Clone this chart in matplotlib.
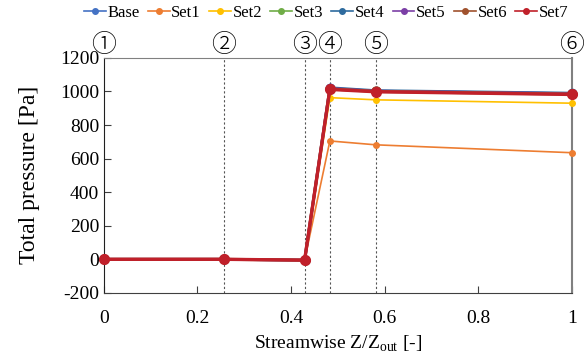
import matplotlib
matplotlib.use('Agg')
import matplotlib.pyplot as plt

plt.rcParams['font.family'] = ['Liberation Serif', 'DejaVu Sans']
plt.rcParams['mathtext.fontset'] = 'custom'
plt.rcParams['mathtext.rm'] = 'Liberation Serif'
plt.rcParams['axes.unicode_minus'] = False

# streamwise stations
z = [0, 0.256, 0.429, 0.483, 0.581, 1.0]
station_labels = ['①', '②', '③', '④', '⑤', '⑥']

names = ['Base', 'Set1', 'Set2', 'Set3', 'Set4', 'Set5', 'Set6', 'Set7']
base = [0, 0, -5, 1020, 1005, 990]
set1 = [0, 0, -5, 705, 682, 635]
set2 = [0, 0, -5, 963, 950, 930]
set3 = [0, 0, -5, 1015, 1000, 985]
set4 = [0, 0, -5, 1022, 1005, 990]
set5 = [0, 0, -5, 1018, 1002, 987]
set6 = [0, 0, -5, 1015, 1000, 984]
set7 = [0, 0, -5, 1012, 998, 982]
series = [base, set1, set2, set3, set4, set5, set6, set7]

colors = ['#4472C4', '#ED7D31', '#FFC000', '#70AD47',
          '#2E6B9E', '#7B3FA6', '#A0522D', '#C0202A']
lw = [1.2, 1.2, 1.2, 1.5, 2.0, 2.0, 2.2, 2.4]
ms = [4, 4, 4, 5, 6, 6, 6.5, 7]

fig = plt.figure(figsize=(5.87, 3.55), dpi=100)
ax = fig.add_axes([0.177, 0.175, 0.797, 0.662])

# station lines
for x in z[1:5]:
    ax.axvline(x, color='#555555', lw=0.8, ls=(0, (2, 2)), zorder=1)

for s, c, w, m, n in zip(series, colors, lw, ms, names):
    ax.plot(z, s, color=c, lw=w, marker='o', ms=m, label=n, zorder=3, clip_on=False)

for x, t in zip(z, station_labels):
    ax.text(x, 1.055, t, transform=ax.get_xaxis_transform(), ha='center', va='center',
            fontsize=18, family=['Noto Sans CJK JP', 'DejaVu Sans'], fontweight='light')

ax.set_xlim(0, 1)
ax.set_ylim(-200, 1200)
ax.set_xticks([0, 0.2, 0.4, 0.6, 0.8, 1.0])
ax.set_xticklabels(['0', '0.2', '0.4', '0.6', '0.8', '1'])
ax.set_yticks(range(-200, 1201, 200))
ax.tick_params(direction='in', labelsize=14, length=5, width=0.8, color='#404040')
ax.tick_params(axis='x', pad=12)
for side in ['top', 'right']:
    ax.spines[side].set_color('#808080')
ax.spines['right'].set_linewidth(1.5)
ax.spines['left'].set_color('#202020')
ax.spines['bottom'].set_color('#404040')

ax.set_ylabel('Total pressure [Pa]', fontsize=17, labelpad=14)
ax.set_xlabel(r'Streamwise Z/Z$_{\mathrm{out}}$ [-]', fontsize=14, labelpad=5)

handles = []
for s, c, n in zip(series, colors, names):
    handles.append(plt.Line2D([], [], color=c, lw=1.2, marker='o', ms=4, label=n))
ax.legend(handles=handles, loc='lower center', bbox_to_anchor=(0.475, 1.13), ncol=8,
          frameon=False, fontsize=12, handlelength=1.3, handletextpad=0.1,
          columnspacing=0.5, borderaxespad=0)

fig.savefig('out.png', dpi=100)
